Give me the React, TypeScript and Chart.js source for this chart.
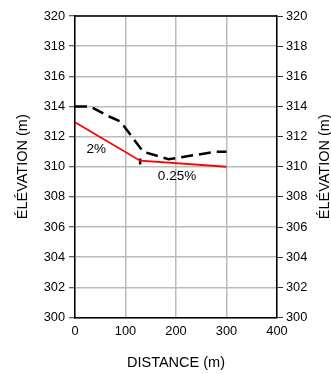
import React, { useEffect, useRef } from "react";
import { Chart, registerables } from "chart.js";

Chart.register(...registerables);

const groundX = [0, 30, 70, 90, 135, 185, 280, 300];
const groundY = [314, 314, 313.3, 313, 311, 310.5, 311, 311];
const gradeX = [0, 129, 300];
const gradeY = [312.95, 310.4, 310];
const markX = [129];
const markY = [310.35];
const slopeLabels = ["2%", "0.25%"];
const slopeLabelX = [42, 202];
const slopeLabelY = [311.18, 309.39];

const FONT = "'Liberation Sans', Arial, sans-serif";

export default function App() {
  const ref = useRef<HTMLCanvasElement | null>(null);
  useEffect(() => {
    document.body.style.margin = "0";
    const ctx = ref.current!.getContext("2d")!;
    const textPlugin = {
      id: "texts",
      afterDraw(chart: any) {
        const c = chart.ctx;
        const a = chart.chartArea;
        const xs = chart.scales.x;
        const ys = chart.scales.y;
        c.save();
        c.strokeStyle = "#000";
        c.lineWidth = 1.5;
        c.beginPath();
        c.moveTo(a.left, a.top);
        c.lineTo(a.right, a.top);
        c.stroke();
        c.fillStyle = "#000";
        c.textAlign = "center";
        c.textBaseline = "middle";
        c.font = `13.5px ${FONT}`;
        slopeLabels.forEach((t, i) => {
          c.fillText(t, xs.getPixelForValue(slopeLabelX[i]), ys.getPixelForValue(slopeLabelY[i]));
        });
        c.font = `14.5px ${FONT}`;
        c.fillText("DISTANCE (m)", (a.left + a.right) / 2, 363);
        const cy = (a.top + a.bottom) / 2;
        [22.5, 325].forEach((px) => {
          c.save();
          c.translate(px, cy);
          c.rotate(-Math.PI / 2);
          c.fillText("ÉLÉVATION (m)", 0, 0);
          c.restore();
        });
        c.restore();
      },
    };
    const chart = new Chart(ctx, {
      type: "line",
      data: {
        datasets: [
          {
            data: groundX.map((x, i) => ({ x, y: groundY[i] })),
            borderColor: "#000",
            borderWidth: 2.5,
            borderDash: [12, 6],
            pointRadius: 0,
            yAxisID: "y",
          },
          {
            data: gradeX.map((x, i) => ({ x, y: gradeY[i] })),
            borderColor: "#ff0000",
            borderWidth: 1.8,
            pointRadius: 0,
            yAxisID: "y",
          },
          {
            data: markX.map((x, i) => ({ x, y: markY[i] })),
            showLine: false,
            pointStyle: "line",
            rotation: 90,
            pointRadius: 3,
            pointBorderWidth: 2.5,
            pointBorderColor: "#000",
            pointBackgroundColor: "#000",
            yAxisID: "y",
          },
        ],
      },
      options: {
        animation: false,
        responsive: false,
        layout: { padding: { top: 16, left: 0, right: 0, bottom: 0 } },
        plugins: { legend: { display: false }, tooltip: { enabled: false } },
        scales: {
          x: {
            type: "linear",
            min: 0,
            max: 400,
            ticks: { stepSize: 100, color: "#000", font: { family: FONT, size: 12.8 }, padding: 6, maxRotation: 0 },
            grid: { color: "#bbbbbb", lineWidth: 1.5, tickLength: 0 },
            border: { color: "#000", width: 1.5 },
            afterFit: (s: any) => { s.height = 56.5; },
          },
          y: {
            type: "linear",
            position: "left",
            min: 300,
            max: 320,
            ticks: { stepSize: 2, color: "#000", font: { family: FONT, size: 12.8 }, padding: 4 },
            grid: { color: "#bbbbbb", lineWidth: 1.5, tickLength: 6, tickColor: "#333", tickWidth: 1 },
            border: { color: "#000", width: 1.5 },
            afterFit: (s: any) => { s.width = 75; },
          },
          y2: {
            type: "linear",
            position: "right",
            min: 300,
            max: 320,
            ticks: { stepSize: 2, color: "#000", font: { family: FONT, size: 12.8 }, padding: 3 },
            grid: { drawOnChartArea: false, tickLength: 6, tickColor: "#333", tickWidth: 1 },
            border: { color: "#000", width: 1.5 },
            afterFit: (s: any) => { s.width = 54; },
          },
        },
      },
      plugins: [textPlugin],
    });
    return () => chart.destroy();
  }, []);
  return (
    <div style={{ width: 331, height: 374 }}>
      <canvas ref={ref} width={331} height={374} style={{ display: "block", width: 331, height: 374 }} />
    </div>
  );
}
